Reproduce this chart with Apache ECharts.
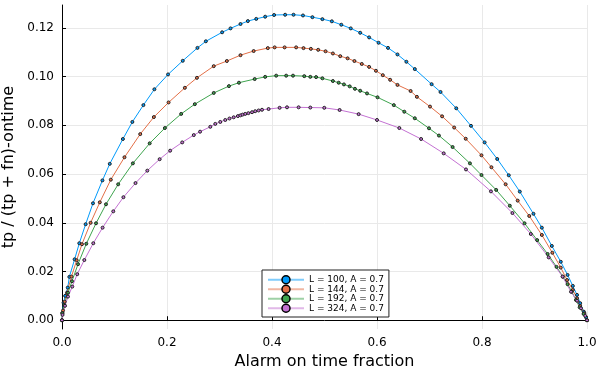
<!DOCTYPE html>
<html>
<head>
<meta charset="utf-8">
<script src="https://cdn.jsdelivr.net/npm/echarts@6/dist/echarts.min.js"></script>
<style>
  html, body { margin: 0; padding: 0; background: #fff; }
  #main { width: 597px; height: 371px; }
</style>
</head>
<body>
<div id="main"></div>
<script>
// [x, y] points, one array per curve
var l100 = [
  [0, 0], [0.001, 0.0030], [0.003, 0.0072], [0.006, 0.0100], [0.011, 0.0134], [0.014, 0.0178],
  [0.024, 0.0250], [0.033, 0.0316], [0.045, 0.0394], [0.059, 0.0480], [0.077, 0.0574],
  [0.091, 0.0642], [0.116, 0.0744], [0.134, 0.0814], [0.155, 0.0883], [0.176, 0.0948],
  [0.202, 0.1009], [0.230, 0.1065], [0.258, 0.1118], [0.274, 0.1145], [0.305, 0.1182],
  [0.321, 0.1198], [0.340, 0.1216], [0.354, 0.1228], [0.370, 0.1237], [0.387, 0.1246],
  [0.404, 0.1253], [0.425, 0.1254], [0.441, 0.1254], [0.459, 0.1251], [0.477, 0.1244],
  [0.496, 0.1236], [0.514, 0.1227], [0.532, 0.1213], [0.550, 0.1198], [0.568, 0.1180],
  [0.585, 0.1161], [0.603, 0.1139], [0.621, 0.1118], [0.639, 0.1091], [0.656, 0.1061],
  [0.672, 0.1031], [0.704, 0.0969], [0.721, 0.0937], [0.751, 0.0870], [0.779, 0.0798],
  [0.805, 0.0730], [0.829, 0.0662], [0.851, 0.0595], [0.872, 0.0528], [0.898, 0.0437],
  [0.914, 0.0380], [0.933, 0.0305], [0.950, 0.0240], [0.963, 0.0186], [0.973, 0.0141],
  [0.981, 0.0104], [0.987, 0.0070], [0.994, 0.0035], [0.998, 0.0012], [1, 0]
];
var l144 = [
  [0, 0], [0.002, 0.0040], [0.005, 0.0076], [0.0095, 0.0113], [0.018, 0.0179], [0.028, 0.0246],
  [0.038, 0.0312], [0.0545, 0.0400], [0.072, 0.0484], [0.093, 0.0577], [0.119, 0.0669],
  [0.149, 0.0764], [0.175, 0.0834], [0.203, 0.0894], [0.234, 0.0954], [0.257, 0.0995],
  [0.289, 0.1043], [0.314, 0.1064], [0.340, 0.1088], [0.365, 0.1105], [0.392, 0.1117],
  [0.405, 0.1120], [0.424, 0.1120], [0.446, 0.1120], [0.460, 0.1117], [0.474, 0.1114],
  [0.488, 0.1110], [0.502, 0.1104], [0.516, 0.1095], [0.530, 0.1084], [0.544, 0.1075],
  [0.557, 0.1064], [0.571, 0.1052], [0.585, 0.1040], [0.598, 0.1024], [0.611, 0.1006],
  [0.625, 0.0987], [0.639, 0.0966], [0.664, 0.0941], [0.676, 0.0917], [0.701, 0.0877],
  [0.724, 0.0837], [0.747, 0.0791], [0.769, 0.0745], [0.799, 0.0677], [0.818, 0.0628],
  [0.845, 0.0558], [0.868, 0.0491], [0.890, 0.0428], [0.914, 0.0350], [0.934, 0.0277],
  [0.950, 0.0216], [0.962, 0.0165], [0.973, 0.0124], [0.981, 0.0090], [0.987, 0.0059],
  [0.995, 0.0029], [1, 0]
];
var l192 = [
  [0, 0], [0.0005, 0.0029], [0.0044, 0.0063], [0.0114, 0.0113], [0.019, 0.0160], [0.0305, 0.0230],
  [0.0463, 0.0314], [0.0648, 0.0398], [0.0838, 0.0476], [0.107, 0.0558], [0.135, 0.0644],
  [0.167, 0.0726], [0.196, 0.0789], [0.227, 0.0847], [0.253, 0.0887], [0.289, 0.0933],
  [0.318, 0.0961], [0.337, 0.0975], [0.367, 0.0990], [0.387, 0.0999], [0.408, 0.1004],
  [0.427, 0.1004], [0.440, 0.1004], [0.4615, 0.1002], [0.473, 0.0999], [0.484, 0.0998],
  [0.496, 0.0993], [0.516, 0.0982], [0.527, 0.0975], [0.537, 0.0968], [0.548, 0.0960],
  [0.558, 0.0950], [0.568, 0.0942], [0.581, 0.0931], [0.601, 0.0915], [0.632, 0.0883],
  [0.652, 0.0856], [0.672, 0.0829], [0.699, 0.0788], [0.718, 0.0758], [0.744, 0.0711],
  [0.777, 0.0644], [0.799, 0.0596], [0.827, 0.0535], [0.853, 0.0470], [0.881, 0.0398],
  [0.905, 0.0329], [0.925, 0.0272], [0.942, 0.0219], [0.954, 0.0179], [0.963, 0.0148],
  [0.971, 0.0117], [0.979, 0.0083], [0.986, 0.0053], [0.9935, 0.0026], [1, 0]
];
var l324 = [
  [0, 0], [0.001, 0.0022], [0.0057, 0.0059], [0.0114, 0.0097], [0.0196, 0.0138], [0.029, 0.0189],
  [0.0425, 0.0247], [0.0596, 0.0316], [0.0773, 0.0380], [0.0977, 0.0447], [0.117, 0.0505],
  [0.140, 0.0563], [0.1625, 0.0614], [0.186, 0.0661], [0.206, 0.0696], [0.229, 0.0730],
  [0.251, 0.0760], [0.263, 0.0774], [0.2825, 0.0794], [0.292, 0.0806], [0.3015, 0.0814],
  [0.311, 0.0822], [0.319, 0.0828], [0.327, 0.0833], [0.335, 0.0838], [0.340, 0.0841],
  [0.344, 0.0844], [0.349, 0.0847], [0.355, 0.0850], [0.362, 0.0854], [0.368, 0.0858],
  [0.3745, 0.0861], [0.381, 0.0864], [0.3935, 0.0867], [0.4145, 0.0872], [0.4286, 0.0874],
  [0.4507, 0.0874], [0.473, 0.0873], [0.4996, 0.0872], [0.5288, 0.0863], [0.565, 0.0846],
  [0.600, 0.0822], [0.6425, 0.0789], [0.684, 0.0744], [0.727, 0.0685], [0.7695, 0.0619],
  [0.817, 0.0529], [0.858, 0.0440], [0.893, 0.0354], [0.927, 0.0258], [0.9535, 0.0179],
  [0.9695, 0.0117], [0.981, 0.0080], [0.9886, 0.0049], [0.9966, 0.0018], [1, 0]
];

var names = ['L = 100, A = 0.7', 'L = 144, A = 0.7', 'L = 192, A = 0.7', 'L = 324, A = 0.7'];
var colors = ['#009AFA', '#E36F47', '#3EA44E', '#C371D2'];
var curves = [l100, l144, l192, l324];
var yTicks = [0, 0.02, 0.04, 0.06, 0.08, 0.10, 0.12];

var font = 'DejaVu Sans';
var chart = echarts.init(document.getElementById('main'));

var series = curves.map(function (d, i) {
  return {
    name: names[i],
    type: 'line',
    data: d,
    color: colors[i],
    symbol: 'circle',
    symbolSize: 3,
    showSymbol: true,
    showAllSymbol: true,
    lineStyle: { width: 1, color: colors[i] },
    itemStyle: { color: colors[i], borderColor: '#222', borderWidth: 1 }
  };
});

chart.setOption({
  animation: false,
  grid: { left: 62, right: 10, top: 5, bottom: 42, outerBoundsMode: 'none' },
  legend: {
    orient: 'vertical',
    left: 262,
    top: 270,
    padding: [5, 5, 4, 5],
    itemWidth: 36,
    itemHeight: 10,
    itemGap: 0,
    borderColor: '#222',
    borderWidth: 1,
    backgroundColor: '#fff',
    textStyle: { fontFamily: font, fontSize: 9, color: '#000' },
    itemStyle: { borderColor: '#000', borderWidth: 1.5 },
    lineStyle: { opacity: 0.5 },
    data: names
  },
  xAxis: {
    type: 'value',
    min: 0,
    max: 1,
    interval: 0.2,
    name: 'Alarm on time fraction',
    nameLocation: 'middle',
    nameGap: 22,
    nameTextStyle: { fontFamily: font, fontSize: 16, color: '#000' },
    axisLine: { lineStyle: { color: '#000', width: 1 } },
    axisTick: { inside: true, length: 4, lineStyle: { color: '#000' } },
    axisLabel: {
      fontFamily: font, fontSize: 12, color: '#000', margin: 8,
      formatter: function (v) { return v.toFixed(1); }
    },
    splitLine: { show: true, lineStyle: { color: '#e9e9e9', width: 1 } }
  },
  yAxis: {
    type: 'value',
    min: -0.0036,
    max: 0.1294,
    name: 'tp / (tp + fn)-ontime',
    nameLocation: 'middle',
    nameGap: 42,
    nameTextStyle: { fontFamily: font, fontSize: 16, color: '#000' },
    axisLine: { show: true, lineStyle: { color: '#000', width: 1 } },
    axisTick: { show: true, inside: true, length: 4, customValues: yTicks, lineStyle: { color: '#000' } },
    axisLabel: {
      fontFamily: font, fontSize: 12, color: '#000', margin: 8,
      customValues: yTicks,
      formatter: function (v) { return v.toFixed(2); }
    },
    splitLine: { show: true, lineStyle: { color: '#e9e9e9', width: 1 } }
  },
  series: series
});
</script>
</body>
</html>
